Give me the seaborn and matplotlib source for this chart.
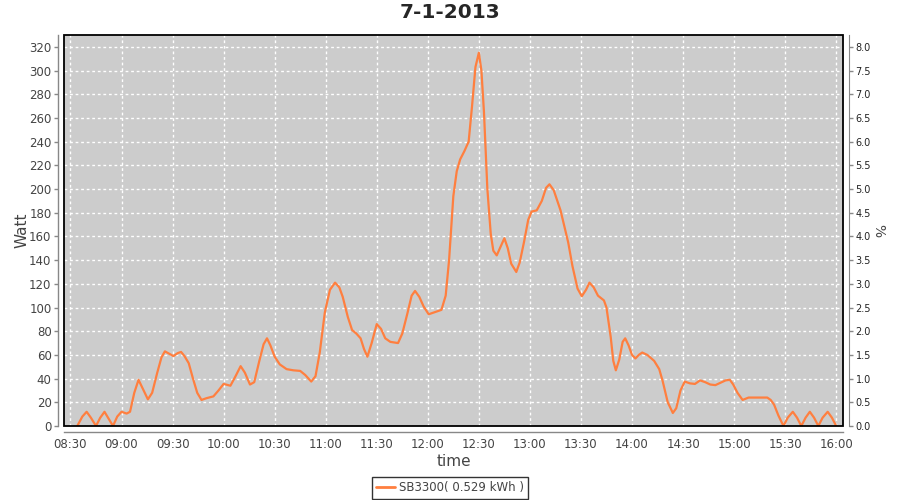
import matplotlib
matplotlib.use("Agg")
import matplotlib.pyplot as plt
import matplotlib.dates as mdates
from matplotlib.lines import Line2D
from matplotlib.patches import Rectangle
from matplotlib.ticker import FormatStrFormatter
import seaborn as sns
import pandas as pd

# ---- data ----
title = "7-1-2013"
series_name = "SB3300( 0.529 kWh )"
minutes_after_0830 = [
    4, 7, 9.5, 12, 15, 17.5, 20, 22.5, 25, 27.5, 30, 33, 35, 37.5, 40, 42, 45.5, 48, 51, 53.5,
    55.5, 58, 60.5, 63, 65, 67, 69.5, 72, 74.5, 77, 80, 84, 87, 90, 94, 97, 100, 102.5, 105.5, 108,
    111, 113.5, 115.5, 117.5, 120, 123, 127, 131, 135, 138, 141.5, 144, 146.5, 149.5, 152.5, 155.5,
    158, 160, 163, 165.5, 168, 170.5, 172.5, 174.5, 177, 180, 182.5, 185, 188, 192.5, 195, 198,
    200.5, 202.5, 205, 207.5, 210.5, 214, 218, 220.5, 222.5, 225, 227, 229, 231.5, 234, 236, 238,
    240, 241.5, 243, 245, 247, 248.5, 250.5, 253, 255, 257, 259, 262, 264, 266.5, 269, 271, 274,
    277, 279.5, 281.5, 284, 288, 292.5, 295, 298, 300.5, 303, 305, 307.5, 310, 313.5, 315, 317.5,
    319, 320.5, 322.5, 324.5, 326, 328, 330, 332, 334, 336, 339, 343, 346, 348, 351, 354, 356,
    358.5, 361, 364, 367, 370, 373, 376, 379, 382, 385, 387.5, 389.5, 392, 395, 398.5, 405, 409.5,
    411.5, 413.5, 416, 419, 421.5, 424.5, 427, 429.5, 432, 434.5, 437, 439.5, 442, 445, 447.5, 450,
]
watt = [
    0, 8, 12, 7, 0, 7, 12, 6, 0, 8, 12, 10.5, 12, 28, 39, 33, 22.5, 28, 45, 58,
    63, 61, 59, 61.5, 62.5, 59, 53, 40, 28, 22, 23.5, 25, 30, 35.5, 34, 42, 50.5, 45, 35, 37,
    55, 69, 74, 68, 58.5, 52, 48, 47, 46.5, 43, 37.5, 42, 62, 96, 115, 121,
    117, 109, 92, 81, 78, 74, 65, 58.5, 70, 86, 82, 74, 71, 70, 78, 95,
    110, 114, 109, 101, 94.3, 96, 98, 110, 140, 194, 215, 225, 232, 240, 270, 303,
    315, 300, 265, 200, 162, 148, 144, 152, 158.5, 150, 137, 130, 138, 155, 174, 181, 182,
    190, 201, 204, 199, 182, 155, 135, 116, 109.5, 115, 121, 117, 110, 106, 100, 75,
    55, 47, 56, 71, 74, 68, 60, 57, 60, 62, 60, 55, 48, 38, 20, 11, 15,
    30, 37.5, 36, 35.5, 38.5, 37, 35, 34.5, 36.5, 38.5, 39, 35, 28, 22, 24, 24, 24,
    22, 18, 9, 0, 7, 12, 7, 0, 7, 12, 7, 0, 7, 12, 7, 0,
]
left_ticks = list(range(0, 321, 20))
right_ticks = [i * 0.5 for i in range(17)]

base = pd.Timestamp("2013-07-01 08:30")
df = pd.DataFrame({
    "time": [base + pd.Timedelta(minutes=m) for m in minutes_after_0830],
    "watt": watt,
})

sns.set_style("white")
plt.rcParams["font.family"] = ["DejaVu Sans"]

fig = plt.figure(figsize=(9, 5), dpi=100)
fig.patch.set_facecolor("white")
ax = fig.add_axes([64 / 900, 1 - 426 / 500, (843 - 64) / 900, (426 - 35) / 500])
ax.set_facecolor("#CCCCCC")

line_color = "#FF7F3F"
sns.lineplot(data=df, x="time", y="watt", ax=ax, color=line_color, linewidth=1.6, legend=False)

ax.set_ylim(0, 330)
ax.set_xlim(base - pd.Timedelta(minutes=3.8), base + pd.Timedelta(minutes=454))
ax.set_yticks(left_ticks)
ax.xaxis.set_major_locator(mdates.MinuteLocator(byminute=[0, 30]))
ax.xaxis.set_major_formatter(mdates.DateFormatter("%H:%M"))

ax.grid(True, color="white", linestyle=(0, (2, 2)), linewidth=1)
ax.set_axisbelow(True)

for side in ["left", "bottom"]:
    ax.spines[side].set_position(("outward", 4))
    ax.spines[side].set_color("#888888")
    ax.spines[side].set_linewidth(1)
ax.spines["top"].set_visible(False)
ax.spines["right"].set_visible(False)
ax.add_patch(Rectangle((0, 0), 1, 1, transform=ax.transAxes, fill=False,
                       ec="black", lw=1.3, clip_on=False, zorder=5))

ax.tick_params(axis="both", direction="out", length=3, width=1, color="#888888",
               labelcolor="#444444", labelsize=8.5, pad=2)
ax.set_xlabel("time", fontsize=11, color="#444444", labelpad=2)
ax.set_ylabel("Watt", fontsize=11, color="#444444", labelpad=0)

ax2 = ax.twinx()
ax2.set_ylim(0, 330 / 40)
ax2.set_yticks(right_ticks)
ax2.yaxis.set_major_formatter(FormatStrFormatter("%.1f"))
for side in ["left", "top", "bottom"]:
    ax2.spines[side].set_visible(False)
ax2.spines["right"].set_position(("outward", 4))
ax2.spines["right"].set_color("#888888")
ax2.tick_params(axis="y", direction="out", length=3, width=1, color="#888888",
                labelcolor="#222222", labelsize=7, pad=2)
ax2.set_ylabel("%", fontsize=10, color="#444444", rotation=270, labelpad=10)

fig.suptitle(title, fontsize=14.5, fontweight="bold", x=0.5, y=0.993, va="top")

handle = Line2D([], [], color=line_color, linewidth=2)
leg = fig.legend([handle], [series_name], loc="center", bbox_to_anchor=(450 / 900, 1 - 488 / 500),
                 frameon=True, fancybox=False, fontsize=8.5, handlelength=1.6,
                 handletextpad=0.4, borderpad=0.35, borderaxespad=0)
leg.get_frame().set_edgecolor("black")
leg.get_frame().set_linewidth(1)
for t in leg.get_texts():
    t.set_color("#444444")

fig.savefig("out.png", dpi=100)
